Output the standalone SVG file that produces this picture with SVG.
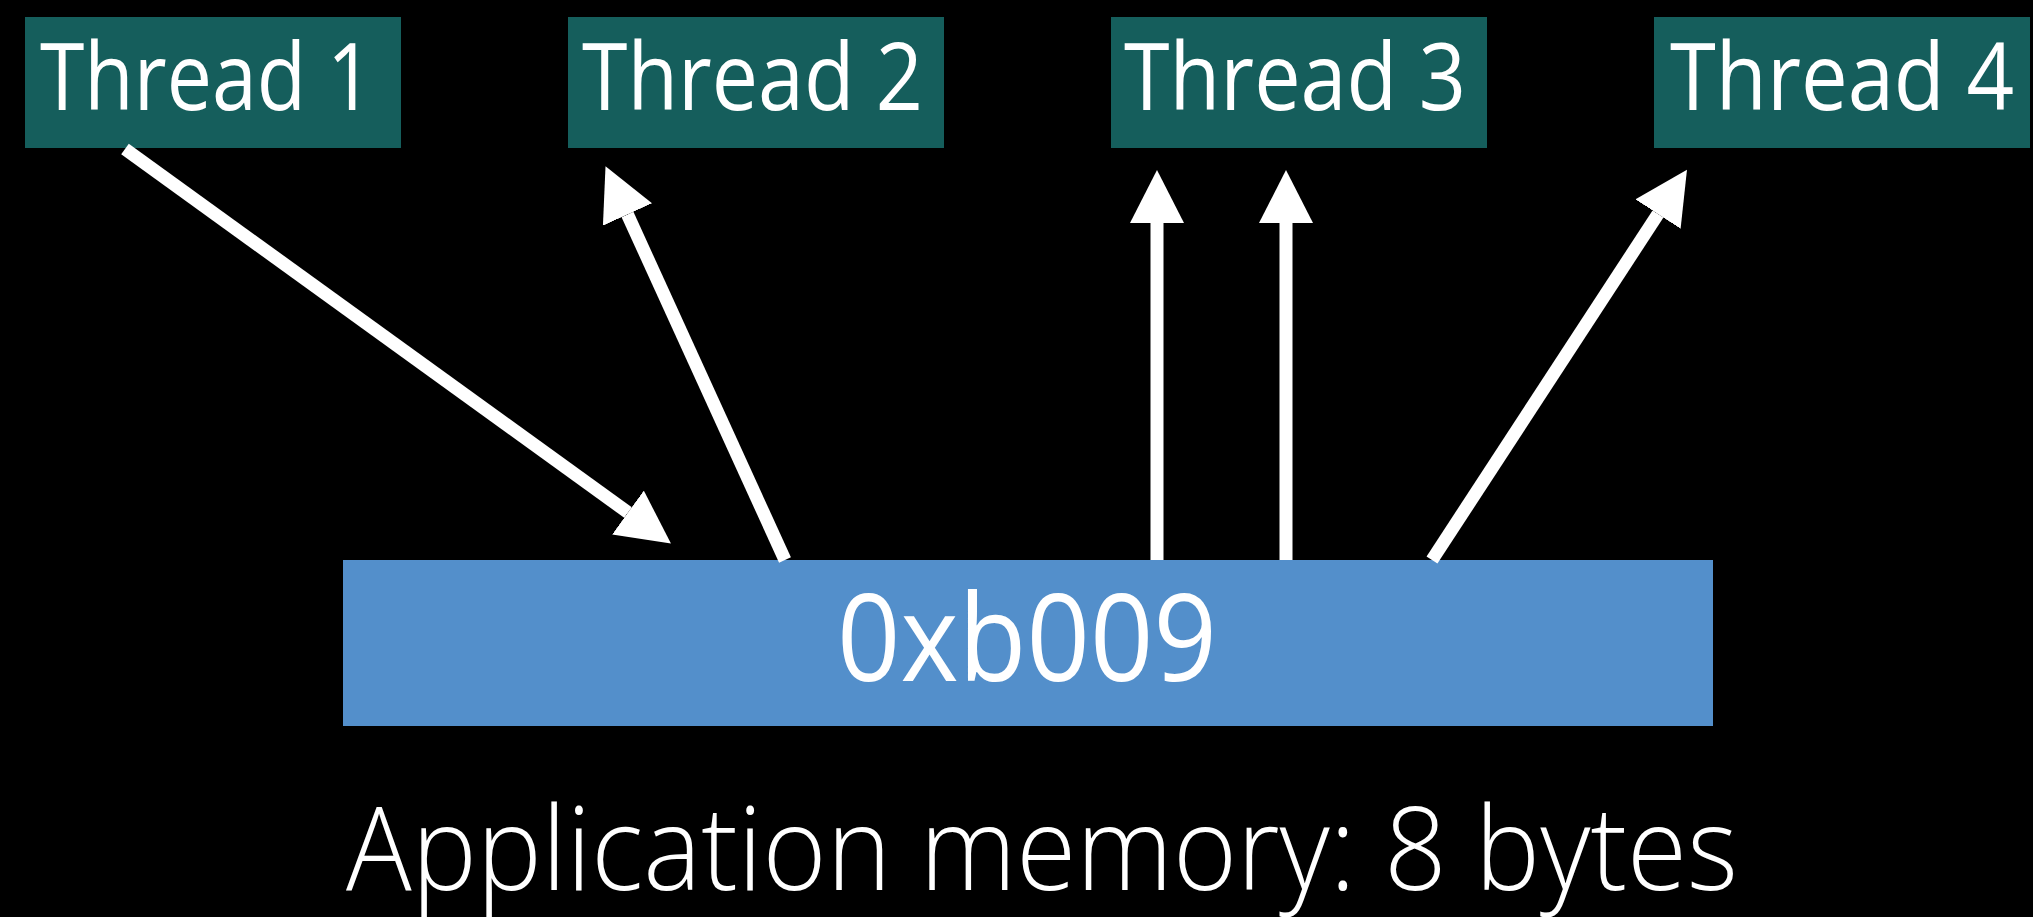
<svg xmlns="http://www.w3.org/2000/svg" width="2033" height="917" viewBox="0 0 2033 917">
  <style>
    .thread { fill: #155e5c; }
    .thread-label { fill: #ffffff; font-family: "Open Sans", "Noto Sans", "Liberation Sans", sans-serif; font-size: 94px; font-weight: 400; }
    .memory { fill: #538fcb; }
    .memory-label { fill: #ffffff; font-family: "Open Sans", "Noto Sans", "Liberation Sans", sans-serif; font-size: 120px; font-weight: 400; }
    .caption { fill: #ffffff; font-family: "Open Sans", "Noto Sans", "Liberation Sans", sans-serif; font-size: 116px; font-weight: 300; }
    .link { stroke: #ffffff; stroke-width: 13; fill: none; marker-end: url(#head); }
  </style>
  <defs>
    <marker id="head" viewBox="0 -27 54 54" refX="0" refY="0" markerWidth="54" markerHeight="54" markerUnits="userSpaceOnUse" orient="auto">
      <path d="M0,-27 L53,0 L0,27 Z" fill="#ffffff"/>
    </marker>
  </defs>

  <rect width="2033" height="917" fill="#000000"/>

  <g id="thread-1">
    <rect class="thread" x="25" y="17" width="376" height="131"/>
    <text class="thread-label" x="40" y="110" textLength="333" lengthAdjust="spacingAndGlyphs">Thread 1</text>
  </g>
  <g id="thread-2">
    <rect class="thread" x="568" y="17" width="376" height="131"/>
    <text class="thread-label" x="582" y="110" textLength="341" lengthAdjust="spacingAndGlyphs">Thread 2</text>
  </g>
  <g id="thread-3">
    <rect class="thread" x="1111" y="17" width="376" height="131"/>
    <text class="thread-label" x="1124" y="110" textLength="342" lengthAdjust="spacingAndGlyphs">Thread 3</text>
  </g>
  <g id="thread-4">
    <rect class="thread" x="1654" y="17" width="376" height="131"/>
    <text class="thread-label" x="1670" y="110" textLength="344" lengthAdjust="spacingAndGlyphs">Thread 4</text>
  </g>

  <g id="memory">
    <rect class="memory" x="343" y="560" width="1370" height="166"/>
    <text class="memory-label" x="837" y="681" textLength="380" lengthAdjust="spacingAndGlyphs">0xb009</text>
  </g>

  <g id="connectors">
    <line class="link" x1="125" y1="149" x2="628" y2="512.5"/>
    <line class="link" x1="785" y1="560" x2="627.5" y2="214.5"/>
    <line class="link" x1="1157" y1="560" x2="1157" y2="223"/>
    <line class="link" x1="1286" y1="560" x2="1286" y2="223"/>
    <line class="link" x1="1432" y1="560" x2="1658" y2="214"/>
  </g>

  <text id="caption" class="caption" x="346" y="890" textLength="1392" lengthAdjust="spacingAndGlyphs">Application memory: 8 bytes</text>
</svg>
